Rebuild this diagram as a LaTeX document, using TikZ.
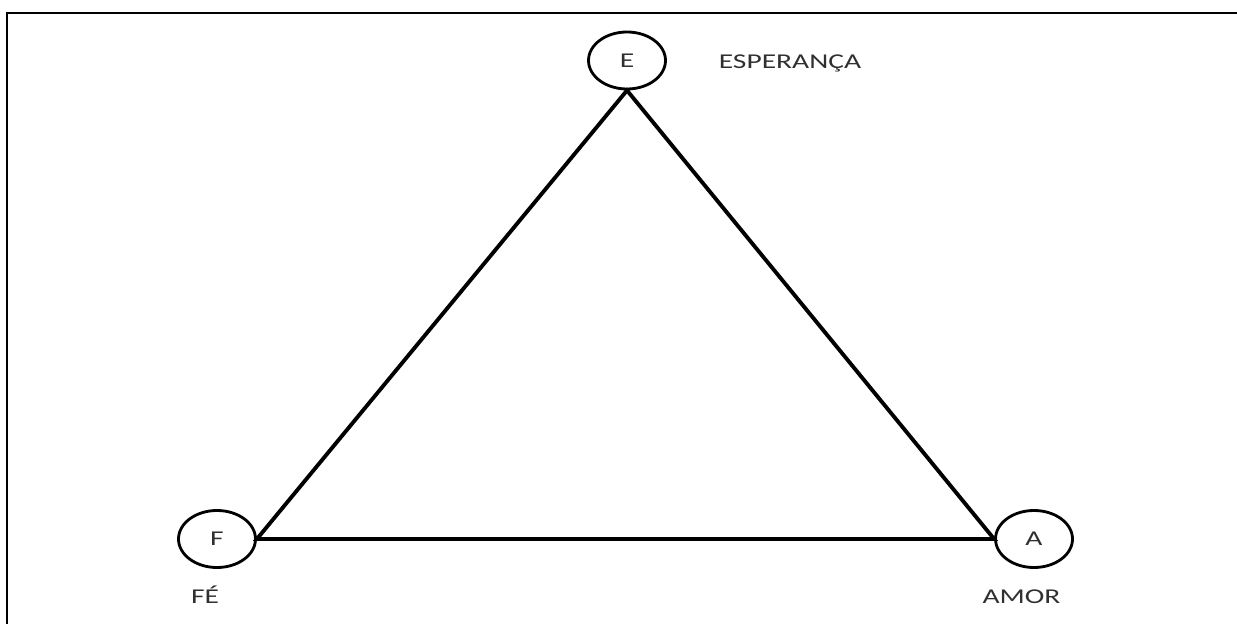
\documentclass[tikz,border=0pt]{standalone}
\usepackage{fontspec}
\setmainfont{Carlito}
\newfontfamily\widefont[FakeStretch=1.4]{Carlito}
\usetikzlibrary{shapes.geometric}
\definecolor{inkgray}{HTML}{303030}
\tikzset{
  virtue/.style={ellipse, draw=black, line width=1.6pt, inner sep=0pt, minimum width=1.54cm, minimum height=1.14cm, font=\widefont\fontsize{12}{14}\selectfont, text=inkgray},
  side/.style={draw=black, line width=2.2pt, line join=miter},
  vname/.style={font=\widefont\fontsize{12}{14}\selectfont, text=inkgray, inner sep=0pt},
  pageframe/.style={draw=black, line width=1.7pt},
}
\begin{document}
\begin{tikzpicture}[x=1cm,y=1cm]
  \useasboundingbox (0,0) rectangle (24.74,-12.48);
  \draw[pageframe] (0.14,-12.60) -- (0.14,-0.26) -- (24.80,-0.26);
  % the three virtues
  \node[virtue] (E) at (12.54,-1.21) {E};
  \node[virtue] (F) at (4.34,-10.78) {F};
  \node[virtue] (A) at (20.68,-10.78) {A};
  \draw[side] (E.south) -- (A.west) -- (F.east) -- cycle;
  % names
  \node[vname] (esp) at (15.80,-1.27) {ESPERANÇA};
  \node[vname] (fe) at (4.10,-11.90) {FÉ};
  \node[vname] (amor) at (20.43,-11.93) {AMOR};
\end{tikzpicture}
\end{document}
